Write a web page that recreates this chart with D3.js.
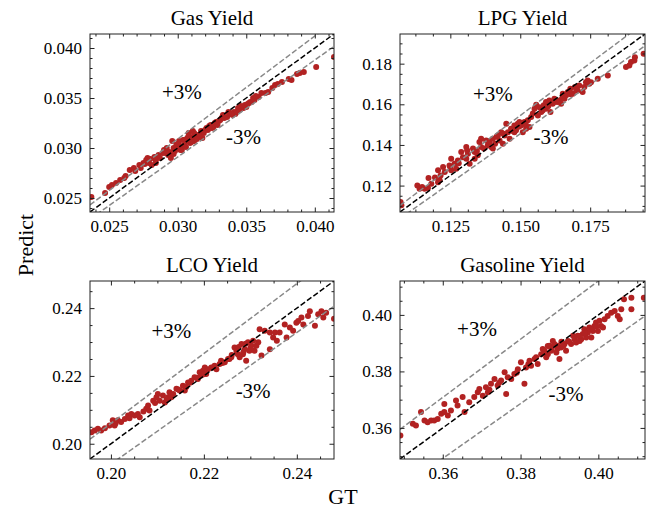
<html>
<head>
<meta charset="UTF-8">
<script src="https://d3js.org/d3.v7.min.js"></script>
<style>
body { margin: 0; background: white; }
svg text { font-family: "Liberation Serif", "Times New Roman", serif !important; fill: black; }
</style>
</head>
<body>
<svg id="chart" width="659" height="508"></svg>
<script>
// ---- datos ----
var titles = ["Gas Yield", "LPG Yield", "LCO Yield", "Gasoline Yield"];

var gasGT = [0.0237,0.0247,0.0250,0.0252,0.0255,0.0258,0.0261,0.0262,0.0265,0.0269,0.0272,0.0275,0.0277,0.0278,0.0279,0.0281,0.0284,0.0284,0.0286,0.0287,0.0290,0.0291,0.0292,0.0293,0.0295,0.0296,0.0297,0.0298,0.0299,0.0300,0.0301,0.0302,0.0303,0.0304,0.0305,0.0307,0.0308,0.0308,0.0309,0.0311,0.0311,0.0312,0.0313,0.0314,0.0315,0.0317,0.0318,0.0319,0.0320,0.0321,0.0323,0.0324,0.0325,0.0326,0.0327,0.0329,0.0330,0.0331,0.0332,0.0333,0.0336,0.0337,0.0338,0.0340,0.0341,0.0342,0.0343,0.0344,0.0345,0.0347,0.0348,0.0349,0.0350,0.0352,0.0353,0.0354,0.0355,0.0356,0.0359,0.0361,0.0364,0.0366,0.0369,0.0371,0.0373,0.0376,0.0381,0.0383,0.0387,0.0389,0.0392,0.0401,0.0414,
	0.0289,0.0294,0.0297,0.0300,0.0302,0.0305,0.0306,0.0308,0.0310,0.0312,0.0314,0.0316,0.0318,0.0322,0.0323,0.0328,0.0334,0.0339,0.0346,0.0351,0.0357,0.0268,0.0273,0.0276,0.0280,0.0283];
var gasPred = [0.0251,0.0255,0.0261,0.0263,0.0265,0.0268,0.0270,0.0272,0.0278,0.0277,0.0283,0.0285,0.0288,0.0290,0.0285,0.0283,0.0288,0.0285,0.0293,0.0290,0.0298,0.0295,0.0300,0.0293,0.0290,0.0307,0.0300,0.0297,0.0303,0.0300,0.0307,0.0302,0.0298,0.0308,0.0303,0.0310,0.0315,0.0307,0.0305,0.0311,0.0317,0.0307,0.0310,0.0313,0.0311,0.0317,0.0310,0.0315,0.0318,0.0320,0.0322,0.0323,0.0320,0.0321,0.0325,0.0323,0.0327,0.0328,0.0330,0.0333,0.0331,0.0336,0.0335,0.0333,0.0336,0.0334,0.0336,0.0340,0.0338,0.0341,0.0340,0.0343,0.0341,0.0345,0.0346,0.0346,0.0350,0.0348,0.0351,0.0355,0.0355,0.0356,0.0360,0.0363,0.0364,0.0366,0.0369,0.0368,0.0374,0.0375,0.0376,0.0381,0.0391,
	0.0295,0.0296,0.0294,0.0304,0.0298,0.0308,0.0301,0.0312,0.0306,0.0315,0.0309,0.0313,0.0316,0.0318,0.0320,0.0326,0.0330,0.0334,0.0342,0.0344,0.0352,0.0280,0.0280,0.0284,0.0289,0.0291];

var lpgGT = [0.1072,0.1075,0.1132,0.1140,0.1149,0.1158,0.1172,0.1170,0.1182,0.1206,0.1206,0.1215,0.1224,0.1212,0.1230,0.1247,0.1253,0.1253,0.1265,0.1271,0.1277,0.1289,0.1295,0.1307,0.1307,0.1313,0.1319,0.1331,0.1337,0.1337,0.1348,0.1354,0.1360,0.1360,0.1370,0.1378,0.1384,0.1390,0.1396,0.1402,0.1402,0.1410,0.1420,0.1426,0.1432,0.1438,0.1444,0.1450,0.1456,0.1462,0.1467,0.1479,0.1479,0.1485,0.1491,0.1497,0.1503,0.1509,0.1515,0.1521,0.1527,0.1533,0.1539,0.1551,0.1557,0.1563,0.1569,0.1575,0.1584,0.1592,0.1592,0.1604,0.1608,0.1616,0.1622,0.1632,0.1640,0.1646,0.1652,0.1658,0.1664,0.1670,0.1679,0.1688,0.1696,0.1705,0.1711,0.1723,0.1729,0.1735,0.1741,0.1747,0.1753,0.1777,0.1813,0.1878,0.1890,0.1896,0.1908,0.1910,0.1941,
	0.1310,0.1345,0.1385,0.1415,0.1440,0.1470,0.1495,0.1520,0.1545,0.1580,0.1600,0.1620,0.1650,0.1680,0.1700,0.1250,0.1280,0.1195];
var lpgPred = [0.1119,0.1103,0.1201,0.1185,0.1193,0.1185,0.1237,0.1188,0.1209,0.1275,0.1217,0.1250,0.1291,0.1226,0.1267,0.1299,0.1275,0.1332,0.1308,0.1283,0.1324,0.1365,0.1340,0.1390,0.1332,0.1357,0.1308,0.1382,0.1365,0.1332,0.1349,0.1414,0.1390,0.1431,0.1382,0.1422,0.1398,0.1414,0.1390,0.1431,0.1382,0.1406,0.1447,0.1422,0.1463,0.1406,0.1447,0.1504,0.1463,0.1431,0.1480,0.1496,0.1463,0.1472,0.1504,0.1513,0.1496,0.1463,0.1513,0.1480,0.1521,0.1488,0.1537,0.1578,0.1598,0.1545,0.1586,0.1562,0.1595,0.1578,0.1611,0.1619,0.1562,0.1603,0.1627,0.1611,0.1619,0.1603,0.1652,0.1627,0.1644,0.1660,0.1676,0.1652,0.1685,0.1668,0.1693,0.1660,0.1685,0.1709,0.1717,0.1701,0.1709,0.1726,0.1742,0.1783,0.1791,0.1808,0.1816,0.1832,0.1849,
	0.1374,0.1370,0.1420,0.1440,0.1455,0.1470,0.1490,0.1500,0.1555,0.1570,0.1590,0.1610,0.1630,0.1650,0.1670,0.1290,0.1310,0.1240];

var lcoGT = [0.1958,0.1965,0.1972,0.1979,0.1987,0.1997,0.2004,0.2008,0.2015,0.2022,0.2030,0.2037,0.2044,0.2051,0.2058,0.2062,0.2076,0.2080,0.2083,0.2091,0.2098,0.2101,0.2105,0.2112,0.2116,0.2123,0.2126,0.2130,0.2134,0.2141,0.2148,0.2155,0.2159,0.2162,0.2166,0.2173,0.2180,0.2187,0.2191,0.2194,0.2198,0.2202,0.2205,0.2209,0.2216,0.2223,0.2227,0.2234,0.2237,0.2245,0.2252,0.2259,0.2266,0.2270,0.2273,0.2277,0.2281,0.2284,0.2288,0.2291,0.2295,0.2298,0.2302,0.2306,0.2309,0.2313,0.2317,0.2320,0.2324,0.2331,0.2342,0.2342,0.2349,0.2353,0.2357,0.2363,0.2374,0.2378,0.2385,0.2392,0.2399,0.2403,0.2410,0.2414,0.2424,0.2428,0.2439,0.2446,0.2453,0.2457,0.2463,0.2480,
	0.2010,0.2040,0.2070,0.2095,0.2120,0.2145,0.2170,0.2185,0.2200,0.2220,0.2240,0.2255,0.2275,0.2285,0.2300,0.2290,0.2260];
var lcoPred = [0.2034,0.2039,0.2044,0.2039,0.2046,0.2054,0.2069,0.2054,0.2069,0.2064,0.2073,0.2083,0.2088,0.2083,0.2088,0.2078,0.2103,0.2113,0.2098,0.2127,0.2137,0.2147,0.2127,0.2142,0.2122,0.2137,0.2152,0.2137,0.2147,0.2162,0.2157,0.2171,0.2157,0.2167,0.2181,0.2186,0.2196,0.2191,0.2211,0.2201,0.2215,0.2225,0.2206,0.2220,0.2225,0.2230,0.2220,0.2235,0.2245,0.2240,0.2250,0.2255,0.2284,0.2274,0.2264,0.2255,0.2294,0.2264,0.2279,0.2245,0.2299,0.2274,0.2289,0.2304,0.2274,0.2289,0.2299,0.2338,0.2260,0.2333,0.2328,0.2279,0.2313,0.2328,0.2304,0.2328,0.2352,0.2313,0.2343,0.2333,0.2357,0.2362,0.2372,0.2352,0.2377,0.2391,0.2348,0.2382,0.2391,0.2372,0.2386,0.2369,
	0.2060,0.2075,0.2095,0.2120,0.2130,0.2160,0.2180,0.2195,0.2205,0.2225,0.2238,0.2250,0.2285,0.2270,0.2282,0.2295,0.2262];

var gasolineGT = [0.3491,0.3523,0.3531,0.3544,0.3553,0.3561,0.3570,0.3578,0.3587,0.3596,0.3604,0.3613,0.3604,0.3621,0.3634,0.3638,0.3651,0.3656,0.3668,0.3681,0.3690,0.3694,0.3703,0.3711,0.3716,0.3724,0.3733,0.3741,0.3750,0.3759,0.3763,0.3767,0.3776,0.3784,0.3793,0.3801,0.3810,0.3814,0.3823,0.3827,0.3836,0.3844,0.3853,0.3857,0.3862,0.3866,0.3870,0.3874,0.3879,0.3883,0.3887,0.3892,0.3896,0.3900,0.3904,0.3913,0.3917,0.3922,0.3930,0.3935,0.3939,0.3943,0.3947,0.3952,0.3956,0.3960,0.3964,0.3969,0.3973,0.3977,0.3982,0.3986,0.3990,0.3994,0.3999,0.4003,0.4007,0.4012,0.4016,0.4024,0.4033,0.4042,0.4050,0.4055,0.4059,0.4066,0.4085,0.4085,0.4117,
	0.3720,0.3745,0.3790,0.3820,0.3840,0.3860,0.3880,0.3895,0.3910,0.3925,0.3950,0.3965,0.3980,0.3995,0.3870,0.3905];
var gasolinePred = [0.3573,0.3615,0.3609,0.3656,0.3626,0.3620,0.3626,0.3626,0.3632,0.3650,0.3656,0.3644,0.3685,0.3662,0.3697,0.3679,0.3709,0.3656,0.3691,0.3709,0.3726,0.3738,0.3714,0.3744,0.3726,0.3756,0.3773,0.3750,0.3768,0.3797,0.3720,0.3779,0.3773,0.3791,0.3808,0.3832,0.3756,0.3814,0.3838,0.3820,0.3844,0.3826,0.3861,0.3879,0.3873,0.3850,0.3861,0.3891,0.3873,0.3908,0.3897,0.3867,0.3891,0.3844,0.3885,0.3897,0.3873,0.3908,0.3897,0.3926,0.3914,0.3902,0.3926,0.3908,0.3914,0.3932,0.3949,0.3920,0.3938,0.3955,0.3920,0.3943,0.3961,0.3973,0.3943,0.3979,0.3961,0.3955,0.3985,0.3996,0.4008,0.4014,0.3996,0.3985,0.4020,0.4055,0.4020,0.4061,0.4061,
	0.3735,0.3760,0.3795,0.3825,0.3850,0.3865,0.3880,0.3880,0.3890,0.3905,0.3925,0.3935,0.3950,0.3960,0.3890,0.3905];

// límites de ejes (iguales en x e y)
var gasDomain = [0.0236, 0.0414];
var lpgDomain = [0.107, 0.1946];
var lcoDomain = [0.1955, 0.248];
var gasolineDomain = [0.349, 0.412];

// ticks
var gasTicks = [0.025, 0.030, 0.035, 0.040];
var lpgXTicks = [0.125, 0.150, 0.175];
var lpgYTicks = [0.12, 0.14, 0.16, 0.18];
var lcoTicks = [0.20, 0.22, 0.24];
var gasolineTicks = [0.36, 0.38, 0.40];
var minorSteps = [0.001, 0.00625, 0.005, 0.005];
var minorStepsY = [0.001, 0.005, 0.005, 0.005];

// posiciones de las etiquetas +3% / -3% (en coordenadas de datos)
var plusLabel = [[0.0303, 0.0356], [0.1402, 0.1652], [0.2130, 0.2333], [0.3688, 0.3949]];
var minusLabel = [[0.0348, 0.0311], [0.1610, 0.1439], [0.2306, 0.2157], [0.3917, 0.3720]];

var serif = '"Liberation Serif", "Times New Roman", serif';
var svg = d3.select("#chart");

var panels = [
	{gt: gasGT, pred: gasPred, domain: gasDomain, xt: gasTicks, yt: gasTicks, xf: ".3f", yf: ".3f", left: 90, top: 34, w: 244, h: 178},
	{gt: lpgGT, pred: lpgPred, domain: lpgDomain, xt: lpgXTicks, yt: lpgYTicks, xf: ".3f", yf: ".2f", left: 400, top: 34, w: 245, h: 178},
	{gt: lcoGT, pred: lcoPred, domain: lcoDomain, xt: lcoTicks, yt: lcoTicks, xf: ".2f", yf: ".2f", left: 90, top: 281, w: 244, h: 178},
	{gt: gasolineGT, pred: gasolinePred, domain: gasolineDomain, xt: gasolineTicks, yt: gasolineTicks, xf: ".2f", yf: ".2f", left: 400, top: 281, w: 245, h: 178}
];

// ticks menores a partir del paso
function minors(domain, step, majors) {
	var out = [];
	var start = Math.ceil(domain[0] / step - 1e-9);
	for (var k = start; k * step <= domain[1] + 1e-12; k++) {
		var v = k * step;
		if (!majors.some(m => Math.abs(m - v) < step * 0.01)) out.push(v);
	}
	return out;
}

panels.forEach(function(p, i) {
	var x = d3.scaleLinear().domain(p.domain).range([p.left, p.left + p.w]);
	var y = d3.scaleLinear().domain(p.domain).range([p.top + p.h, p.top]);

	svg.append("clipPath").attr("id", "clip" + i)
		.append("rect")
		.attr("x", p.left).attr("y", p.top)
		.attr("width", p.w).attr("height", p.h);

	var inner = svg.append("g").attr("clip-path", "url(#clip" + i + ")");

	var pts = p.gt.map((v, j) => [v, p.pred[j]]);
	inner.selectAll("circle")
		.data(pts)
	.enter().append("circle")
		.attr("cx", d => x(d[0]))
		.attr("cy", d => y(d[1]))
		.attr("r", 3)
		.attr("fill", "#b22222");

	// lineas de referencia
	var lines = [
		{k: 1.03, color: "#888888"},
		{k: 0.97, color: "#888888"},
		{k: 1.0, color: "black"}
	];
	inner.selectAll("line.ref")
		.data(lines)
	.enter().append("line")
		.attr("class", "ref")
		.attr("x1", x(p.domain[0])).attr("y1", d => y(d.k * p.domain[0]))
		.attr("x2", x(p.domain[1])).attr("y2", d => y(d.k * p.domain[1]))
		.attr("stroke", d => d.color)
		.attr("stroke-width", 1.5)
		.attr("stroke-dasharray", "5.5,2.4");

	// ejes con ticks hacia dentro en los cuatro lados
	var mx = minors(p.domain, minorSteps[i], p.xt);
	var my = minors(p.domain, minorStepsY[i], p.yt);

	function side(axisFn, scale, pos, majors, mins, fmt) {
		var g = svg.append("g").attr("transform", pos);
		g.call(axisFn(scale).tickValues(majors).tickSize(-4.5).tickSizeOuter(0).tickPadding(8)
			.tickFormat(fmt ? d3.format(fmt) : ""));
		g.select(".domain").remove();
		g.attr("font-family", null);
		var gm = svg.append("g").attr("transform", pos);
		gm.call(axisFn(scale).tickValues(mins).tickSize(-2.5).tickSizeOuter(0).tickFormat(""));
		gm.select(".domain").remove();
		g.selectAll("text").style("font-size", "17px").style("font-family", serif);
		svg.selectAll(".tick line").attr("stroke", "#222");
	}
	side(d3.axisBottom, x, `translate(0,${p.top + p.h})`, p.xt, mx, p.xf);
	side(d3.axisTop, x, `translate(0,${p.top})`, p.xt, mx, null);
	side(d3.axisLeft, y, `translate(${p.left},0)`, p.yt, my, p.yf);
	side(d3.axisRight, y, `translate(${p.left + p.w},0)`, p.yt, my, null);

	svg.append("rect")
		.attr("x", p.left).attr("y", p.top)
		.attr("width", p.w).attr("height", p.h)
		.attr("fill", "none").attr("stroke", "#222").attr("stroke-width", 1);

	svg.append("text")
		.attr("x", p.left + p.w / 2).attr("y", p.top - 9)
		.attr("text-anchor", "middle")
		.style("font-family", serif).style("font-size", "21px")
		.text(titles[i]);

	svg.append("text")
		.attr("x", x(plusLabel[i][0])).attr("y", y(plusLabel[i][1]))
		.attr("text-anchor", "middle").attr("dominant-baseline", "central")
		.style("font-family", serif).style("font-size", "21px")
		.text("+3%");
	svg.append("text")
		.attr("x", x(minusLabel[i][0])).attr("y", y(minusLabel[i][1]))
		.attr("text-anchor", "middle").attr("dominant-baseline", "central")
		.style("font-family", serif).style("font-size", "21px")
		.text("-3%");
});

svg.append("text")
	.attr("transform", "translate(33,245) rotate(-90)")
	.attr("text-anchor", "middle")
	.style("font-family", serif).style("font-size", "22px")
	.text("Predict");

svg.append("text")
	.attr("x", 343).attr("y", 504)
	.attr("text-anchor", "middle")
	.style("font-family", serif).style("font-size", "22px")
	.text("GT");
</script>
</body>
</html>
